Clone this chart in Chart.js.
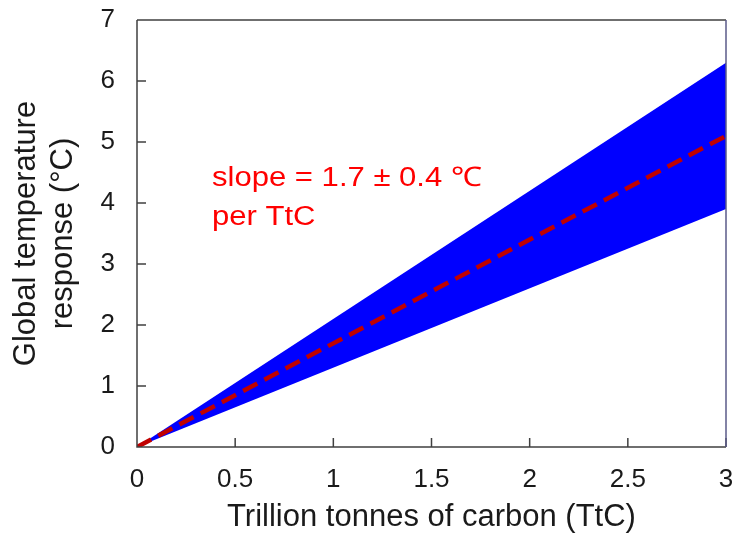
<!DOCTYPE html>
<html>
<head>
<meta charset="utf-8" />
<script src="https://cdn.jsdelivr.net/npm/chart.js@4.4.1/dist/chart.umd.min.js"></script>
<style>
  html,body{margin:0;padding:0;background:#fff;overflow:hidden;}
  #chart{display:block;}
</style>
</head>
<body>
<canvas id="chart" width="732" height="536"></canvas>
<script>
// data
const carbon   = [0, 3];        // TtC
const upperT   = [0, 6.3];      // upper edge of the range
const lowerT   = [0, 3.9];      // lower edge of the range
const centralT = [0, 5.1];      // slope 1.7 per TtC
const xTicks = [0, 0.5, 1, 1.5, 2, 2.5, 3];
const yTicks = [0, 1, 2, 3, 4, 5, 6, 7];
const noteLines = ['slope = 1.7 \u00b1 0.4 \u2103', 'per TtC'];

const FONT = "'Liberation Sans', Arial, sans-serif";
const pts = ys => carbon.map((x, i) => ({ x: x, y: ys[i] }));

// frame, inward ticks and the red note
const extras = {
  id: 'extras',
  afterDatasetsDraw(chart){
    const { ctx, chartArea: a, scales: { x, y } } = chart;
    ctx.save();
    ctx.lineWidth = 1.5;
    ctx.strokeStyle = '#404040';
    ctx.beginPath();
    ctx.moveTo(a.left, a.top); ctx.lineTo(a.right, a.top);
    ctx.moveTo(a.left, a.top); ctx.lineTo(a.left, a.bottom); ctx.lineTo(a.right, a.bottom);
    xTicks.forEach(v => { const px = x.getPixelForValue(v); ctx.moveTo(px, a.bottom); ctx.lineTo(px, a.bottom - 9); });
    yTicks.forEach(v => { const py = y.getPixelForValue(v); ctx.moveTo(a.left, py); ctx.lineTo(a.left + 9, py); });
    ctx.stroke();
    ctx.strokeStyle = '#5a5a88';
    ctx.beginPath(); ctx.moveTo(a.right, a.top); ctx.lineTo(a.right, a.bottom); ctx.stroke();

    ctx.fillStyle = '#ff0000';
    ctx.font = '27px ' + FONT;
    ctx.textBaseline = 'alphabetic';
    const tx = x.getPixelForValue(0.382);
    const ty = y.getPixelForValue(4.28);
    noteLines.forEach((t, i) => {
      ctx.save();
      ctx.translate(tx, ty + i * 39);
      ctx.scale(1.15, 1);
      ctx.fillText(t, 0, 0);
      ctx.restore();
    });
    ctx.restore();
  }
};

// let the labels hang over the edge like the original instead of shrinking the plot
const noOverhang = s => { s.paddingLeft = 0; s.paddingRight = 0; s.paddingTop = 0; s.paddingBottom = 0; };

new Chart(document.getElementById('chart'), {
  type: 'line',
  data: {
    datasets: [
      { data: pts(upperT), borderWidth: 0, pointRadius: 0, fill: false, order: 2, borderColor: '#0000ff' },
      { data: pts(lowerT), borderWidth: 0, pointRadius: 0, fill: '-1', order: 1,
        borderColor: '#0000ff', backgroundColor: '#0000ff' },
      { data: pts(centralT), borderWidth: 4.5, borderColor: '#c00000', borderDash: [16, 8],
        borderCapStyle: 'butt', pointRadius: 0, fill: false, order: 0 }
    ]
  },
  options: {
    responsive: false,
    animation: false,
    devicePixelRatio: 1,
    layout: { padding: { left: 0, top: 20, right: 6, bottom: 0 } },
    plugins: { legend: { display: false }, tooltip: { enabled: false } },
    scales: {
      x: {
        type: 'linear', min: 0, max: 3,
        afterFit: s => { s.height = 89; noOverhang(s); },
        grid: { display: false, drawTicks: false },
        border: { display: false },
        ticks: { stepSize: 0.5, padding: 17, color: '#1a1a1a', font: { family: FONT, size: 26 },
                 callback: v => String(v) },
        title: { display: true, text: 'Trillion tonnes of carbon (TtC)', color: '#1a1a1a',
                 font: { family: FONT, size: 31 }, padding: { top: 0, bottom: 0 } }
      },
      y: {
        type: 'linear', min: 0, max: 7,
        afterFit: s => { s.width = 137; noOverhang(s); },
        grid: { display: false, drawTicks: false },
        border: { display: false },
        ticks: { stepSize: 1, padding: 22, color: '#1a1a1a', font: { family: FONT, size: 26 },
                 callback: v => String(v) },
        title: { display: true, text: ['Global temperature', 'response (\u00b0C)'], color: '#1a1a1a',
                 font: { family: FONT, size: 31 }, padding: { top: 8, bottom: 0 } }
      }
    }
  },
  plugins: [extras]
});
</script>
</body>
</html>
